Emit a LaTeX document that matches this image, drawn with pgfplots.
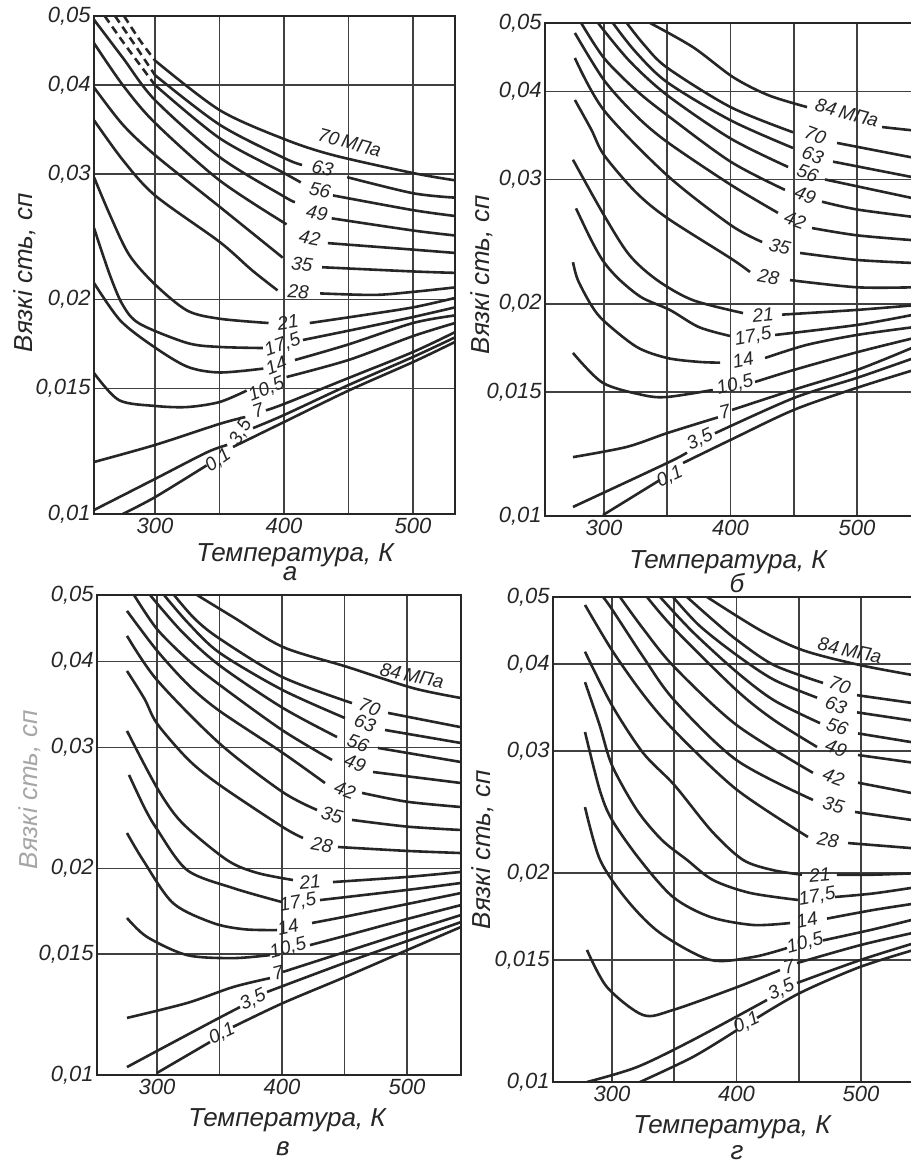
\documentclass[border=0pt]{standalone}
\usepackage{pgfplots}
\pgfplotsset{compat=1.18}
\usepackage{fontspec}
\setmainfont{Liberation Sans}
\pgfplotsset{
  vpanel/.style={
    scale only axis, anchor=south west,
    ymin=0.01, ymax=0.05,
    ytick={0.01,0.015,0.02,0.03,0.04,0.05},
    yticklabels={{0,01},{0,015},{0,02},{0,03},{0,04},{0,05}},
    xtick={300,350,400,450,500},
    xticklabels={300,{},400,{},500},
    grid=major,
    major grid style={line width=0.8pt, draw=black!75},
    axis line style={line width=1.1pt, draw=black!85},
    tick style={draw=none},
    yminorticks=false, xminorticks=false,
    ticklabel style={font=\fontsize{11}{13}\selectfont\itshape, text=black!85},
    yticklabel style={inner sep=1.5pt},
    xticklabel style={inner sep=2pt},
  },
  cv/.style={line width=1.3pt, draw=black!85, smooth},
  dsh/.style={dash pattern=on 4pt off 2.5pt},
}
\tikzset{
  lab/.style={font=\fontsize{9.5}{11}\selectfont\itshape, text=black!85, inner sep=0pt},
  axl/.style={font=\fontsize{13}{15}\selectfont\itshape, text=black!85, inner sep=0pt},
}
\begin{document}
\begin{tikzpicture}
\useasboundingbox (0pt,0pt) rectangle (455pt,582.5pt);
% ---------------- panel a ----------------
\begin{semilogyaxis}[vpanel, at={(47pt,325.5pt)}, width=180.5pt, height=249pt, xmin=252.7, xmax=532.6]
\addplot[cv,dsh] coordinates {(276,0.0500) (288,0.0463) (300,0.0433)};
\addplot[cv] coordinates {(300,0.0433) (350,0.0369) (400,0.0336) (438,0.0319) (500,0.0301) (532.6,0.0294)};
\addplot[cv,dsh] coordinates {(269,0.0500) (284.5,0.0455) (300,0.0413)};
\addplot[cv] coordinates {(300,0.0413) (350,0.0352) (400,0.0316) (414,0.0309)};
\addplot[cv] coordinates {(449,0.0297) (500,0.0282) (532.6,0.0278)};
\addplot[cv,dsh] coordinates {(261,0.0500) (277,0.0455) (300,0.0400)};
\addplot[cv] coordinates {(300,0.0400) (350,0.0337) (400,0.0301) (413,0.0292)};
\addplot[cv] coordinates {(438,0.0280) (500,0.0267) (532.6,0.0262)};
\addplot[cv] coordinates {(252.7,0.0494) (275,0.0437) (300,0.0381) (350,0.0317) (400,0.0279) (408.5,0.0274)};
\addplot[cv] coordinates {(437,0.0260) (500,0.0250) (532.6,0.0246)};
\addplot[cv] coordinates {(252.7,0.0458) (275,0.0400) (300,0.0354) (350,0.0294) (402,0.0255)};
\addplot[cv] coordinates {(434,0.0240) (500,0.0235) (532.6,0.02325)};
\addplot[cv] coordinates {(252.7,0.0397) (275,0.0352) (300,0.0319) (350,0.0270) (399,0.0229)};
\addplot[cv] coordinates {(429.5,0.0222) (500,0.0219) (532.6,0.0218)};
\addplot[cv] coordinates {(252.7,0.0357) (275,0.0314) (300,0.0280) (350,0.0241) (375,0.0220) (395,0.0206)};
\addplot[cv] coordinates {(428,0.0204) (470,0.0203) (500,0.0205) (532.6,0.0208)};
\addplot[cv] coordinates {(252.7,0.0297) (265,0.0263) (280,0.0231) (300,0.0210) (325,0.0193) (350,0.0188) (388,0.01854)};
\addplot[cv] coordinates {(420,0.01854) (460,0.0190) (500,0.0195) (532.6,0.0201)};
\addplot[cv] coordinates {(252.7,0.0252) (265,0.02165) (275,0.01965) (288,0.0185) (325,0.01738) (350,0.01716) (383.7,0.0171)};
\addplot[cv] coordinates {(414.7,0.01755) (460,0.01824) (500,0.0189) (532.6,0.0195)};
\addplot[cv] coordinates {(252.7,0.0211) (273,0.0187) (298.5,0.0172) (325,0.0161) (350,0.0158) (384,0.0160)};
\addplot[cv] coordinates {(408.5,0.01645) (450,0.0173) (500,0.01854) (532.6,0.0190)};
\addplot[cv] coordinates {(252.7,0.01577) (272,0.01445) (300,0.01418) (325,0.01413) (350,0.01436) (371,0.0149)};
\addplot[cv] coordinates {(402,0.01557) (450,0.01645) (500,0.01777) (532.6,0.01854)};
\addplot[cv] coordinates {(252.7,0.01183) (300,0.0125) (350,0.01338) (370,0.01368)};
\addplot[cv] coordinates {(386,0.01398) (400,0.01427) (450,0.01552) (500,0.01688) (532.6,0.0180)};
\addplot[cv] coordinates {(252.7,0.01013) (300,0.0112) (340,0.0122) (356,0.0125)};
\addplot[cv] coordinates {(376,0.0132) (400,0.01377) (450,0.01517) (500,0.01661) (532.6,0.0177)};
\addplot[cv] coordinates {(275,0.0100) (300,0.01056) (340,0.0117)};
\addplot[cv] coordinates {(360.5,0.01242) (400,0.01346) (450,0.0149) (500,0.01634) (532.6,0.01744)};
\node[lab,rotate=-15] at (axis cs:451,0.0332) {70\,МПа};
\node[lab,rotate=-12] at (axis cs:430,0.0306) {63};
\node[lab,rotate=-12] at (axis cs:428,0.0285) {56};
\node[lab,rotate=-10] at (axis cs:425.6,0.02645) {49};
\node[lab,rotate=-10] at (axis cs:420,0.0244) {42};
\node[lab,rotate=-8] at (axis cs:414,0.0224) {35};
\node[lab,rotate=-3] at (axis cs:411,0.0205) {28};
\node[lab,rotate=8] at (axis cs:403,0.0186) {21};
\node[lab,rotate=20] at (axis cs:399,0.01727) {17,5};
\node[lab,rotate=22] at (axis cs:394,0.01615) {14};
\node[lab,rotate=22] at (axis cs:386.5,0.01495) {10,5};
\node[lab,rotate=20] at (axis cs:380,0.01395) {7};
\node[lab,rotate=60] at (axis cs:366.5,0.01303) {3,5};
\node[lab,rotate=35] at (axis cs:349,0.0119) {0,1};
\end{semilogyaxis}
% ---------------- panel b ----------------
\begin{semilogyaxis}[vpanel, at={(272.5pt,324.5pt)}, width=184.5pt, height=246.5pt, xmin=253.4, xmax=545]
\addplot[cv] coordinates {(336.4,0.0500) (370.4,0.0462) (402,0.0419) (430,0.0395) (460.5,0.0380)};
\addplot[cv] coordinates {(519.8,0.0356) (545,0.0352)};
\addplot[cv] coordinates {(318,0.0500) (332,0.0465) (350,0.0432) (400,0.0380) (449.4,0.0350)};
\addplot[cv] coordinates {(484.2,0.0338) (545,0.0322)};
\addplot[cv] coordinates {(307,0.0500) (325,0.0455) (350,0.0412) (400,0.0364) (449.4,0.03325)};
\addplot[cv] coordinates {(481,0.0318) (545,0.0302)};
\addplot[cv] coordinates {(295.3,0.0500) (320,0.0442) (350,0.0395) (400,0.0343) (445.5,0.03125)};
\addplot[cv] coordinates {(474.7,0.0300) (545,0.0282)};
\addplot[cv] coordinates {(282,0.0500) (300,0.0446) (325,0.0402) (350,0.0370) (400,0.0318) (443,0.0290)};
\addplot[cv] coordinates {(472.3,0.0279) (500,0.0272) (545,0.02654)};
\addplot[cv] coordinates {(277,0.0484) (300,0.0415) (325,0.0370) (350,0.0339) (400,0.0295) (437.5,0.0269)};
\addplot[cv] coordinates {(464.4,0.0256) (500,0.0250) (545,0.0246)};
\addplot[cv] coordinates {(277,0.0446) (300,0.0376) (350,0.0304) (400,0.02586) (425,0.02446)};
\addplot[cv] coordinates {(455,0.0236) (500,0.02307) (545,0.02284)};
\addplot[cv] coordinates {(277,0.0389) (290,0.0353) (300,0.0325) (325,0.0288) (350,0.02645) (400,0.0232) (415.4,0.02218)};
\addplot[cv] coordinates {(447,0.0216) (500,0.0211) (545,0.0211)};
\addplot[cv] coordinates {(275.5,0.0320) (300,0.0267) (320,0.02345) (342,0.0216) (370,0.02024) (409.9,0.0194)};
\addplot[cv] coordinates {(440.7,0.0193) (500,0.0196) (545,0.0199)};
\addplot[cv] coordinates {(277.9,0.0273) (290,0.0246) (300,0.0229) (312.6,0.0216) (330,0.0204) (352,0.0196) (375,0.01853) (399.6,0.0180)};
\addplot[cv] coordinates {(435.2,0.01806) (500,0.01866) (545,0.0193)};
\addplot[cv] coordinates {(275.5,0.0229) (279.4,0.0216) (290,0.0199) (300,0.0189) (326,0.01736) (350,0.01675) (375,0.01654) (391.7,0.0165)};
\addplot[cv] coordinates {(427.3,0.01675) (460,0.01748) (500,0.01806) (545,0.01853)};
\addplot[cv] coordinates {(275.5,0.01703) (299,0.01545) (331,0.01484) (350,0.01475) (386,0.01509)};
\addplot[cv] coordinates {(419.4,0.01549) (450,0.01611) (500,0.01707) (545,0.01788)};
\addplot[cv] coordinates {(275.5,0.01212) (318,0.01253) (350,0.01311) (390,0.0138)};
\addplot[cv] coordinates {(401.2,0.01414) (449.4,0.01509) (500,0.01611) (545,0.01736)};
\addplot[cv] coordinates {(275.5,0.0103) (350,0.01189) (365.6,0.0123)};
\addplot[cv] coordinates {(387.7,0.0131) (450,0.0147) (500,0.0157) (545,0.01675)};
\addplot[cv] coordinates {(299.2,0.01003) (344.3,0.01125)};
\addplot[cv] coordinates {(362.5,0.01189) (400,0.01282) (450,0.01414) (500,0.0152) (545,0.01611)};
\node[lab,rotate=-15] at (axis cs:492,0.0373) {84\,МПа};
\node[lab,rotate=-20] at (axis cs:467,0.0347) {70};
\node[lab,rotate=-20] at (axis cs:465,0.0325) {63};
\node[lab,rotate=-20] at (axis cs:461,0.0306) {56};
\node[lab,rotate=-20] at (axis cs:459,0.0285) {49};
\node[lab,rotate=-20] at (axis cs:451,0.0263) {42};
\node[lab,rotate=-15] at (axis cs:439,0.0241) {35};
\node[lab,rotate=-10] at (axis cs:430,0.0218) {28};
\node[lab,rotate=5] at (axis cs:425.7,0.0193) {21};
\node[lab,rotate=10] at (axis cs:417.8,0.01794) {17,5};
\node[lab,rotate=12] at (axis cs:409.9,0.01664) {14};
\node[lab,rotate=15] at (axis cs:403.6,0.01534) {10,5};
\node[lab,rotate=15] at (axis cs:395.5,0.01404) {7};
\node[lab,rotate=25] at (axis cs:375.9,0.01282) {3,5};
\node[lab,rotate=25] at (axis cs:352,0.01136) {0,1};
\end{semilogyaxis}
% ---------------- panel v ----------------
\begin{semilogyaxis}[vpanel, at={(48.5pt,45pt)}, width=182pt, height=240pt, xmin=252, xmax=543.2]
\addplot[cv] coordinates {(332,0.0500) (360.8,0.04645) (400.8,0.0420) (452,0.0393) (504.8,0.0366) (543.2,0.0354)};
\addplot[cv] coordinates {(313.6,0.0500) (330,0.0462) (350,0.0432) (400,0.0380) (456,0.0348)};
\addplot[cv] coordinates {(484.8,0.03367) (543.2,0.0321)};
\addplot[cv] coordinates {(305.6,0.0500) (325,0.0455) (350,0.0412) (400,0.0364) (450.4,0.0331)};
\addplot[cv] coordinates {(482.4,0.0318) (543.2,0.03044)};
\addplot[cv] coordinates {(294.4,0.0500) (320,0.0442) (350,0.0395) (400,0.0343) (444,0.03106)};
\addplot[cv] coordinates {(476.8,0.02994) (543.2,0.02856)};
\addplot[cv] coordinates {(281.6,0.0500) (300,0.0446) (325,0.0402) (350,0.0370) (400,0.0318) (440,0.02876)};
\addplot[cv] coordinates {(472.8,0.02762) (543.2,0.02662)};
\addplot[cv] coordinates {(276,0.0474) (300,0.0415) (325,0.0370) (350,0.0339) (400,0.0295) (434.4,0.02662)};
\addplot[cv] coordinates {(464,0.02575) (500,0.0250) (543.2,0.02456)};
\addplot[cv] coordinates {(276,0.0436) (300,0.0376) (350,0.0304) (400,0.02586) (428,0.02432)};
\addplot[cv] coordinates {(456,0.02352) (500,0.0230) (543.2,0.02274)};
\addplot[cv] coordinates {(276,0.03876) (290,0.0353) (300,0.0325) (325,0.0288) (350,0.02645) (400,0.0230) (416.8,0.02214)};
\addplot[cv] coordinates {(444.8,0.02148) (500,0.0212) (543.2,0.02105)};
\addplot[cv] coordinates {(276,0.0317) (300,0.0262) (320,0.0233) (356,0.02056) (380,0.0197) (408.8,0.01923)};
\addplot[cv] coordinates {(440.8,0.0191) (500,0.01943) (543.2,0.01976)};
\addplot[cv] coordinates {(277.6,0.02735) (290,0.0245) (300,0.0228) (324,0.01989) (360.8,0.01872) (400,0.01786)};
\addplot[cv] coordinates {(430.4,0.01798) (500,0.0186) (543.2,0.01904)};
\addplot[cv] coordinates {(276,0.02251) (288.8,0.02056) (312.8,0.0178) (344.8,0.01665) (370,0.0163) (396,0.01626)};
\addplot[cv] coordinates {(424,0.01665) (450,0.0170) (500,0.01774) (543.2,0.01841)};
\addplot[cv] coordinates {(276,0.01693) (292,0.01589) (324,0.01495) (360.8,0.0148) (390.4,0.01495)};
\addplot[cv] coordinates {(422.4,0.01546) (450,0.01594) (500,0.01687) (543.2,0.01768)};
\addplot[cv] coordinates {(276,0.01211) (324,0.01273) (360.8,0.01343) (390.4,0.01384)};
\addplot[cv] coordinates {(400.8,0.01413) (450,0.0151) (500,0.01615) (543.2,0.0171)};
\addplot[cv] coordinates {(276,0.01027) (300,0.01084) (344.8,0.01198) (366.4,0.01256)};
\addplot[cv] coordinates {(388,0.01321) (450,0.01456) (500,0.01567) (543.2,0.0167)};
\addplot[cv] coordinates {(300,0.01007) (342.4,0.01117)};
\addplot[cv] coordinates {(360.8,0.01175) (400.8,0.01273) (450.4,0.01389) (500,0.0152) (543.2,0.01643)};
\node[lab,rotate=-12] at (axis cs:504,0.0382) {84\,МПа};
\node[lab,rotate=-20] at (axis cs:470,0.03435) {70};
\node[lab,rotate=-20] at (axis cs:466.4,0.03256) {63};
\node[lab,rotate=-20] at (axis cs:460.8,0.03044) {56};
\node[lab,rotate=-20] at (axis cs:458.4,0.02847) {49};
\node[lab,rotate=-20] at (axis cs:450.4,0.0260) {42};
\node[lab,rotate=-15] at (axis cs:440,0.02391) {35};
\node[lab,rotate=-10] at (axis cs:432,0.02163) {28};
\node[lab,rotate=5] at (axis cs:422.4,0.0191) {21};
\node[lab,rotate=10] at (axis cs:412.8,0.0178) {17,5};
\node[lab,rotate=12] at (axis cs:404.8,0.01643) {14};
\node[lab,rotate=15] at (axis cs:404.8,0.0153) {10,5};
\node[lab,rotate=15] at (axis cs:396.8,0.01408) {7};
\node[lab,rotate=25] at (axis cs:376.8,0.01286) {3,5};
\node[lab,rotate=25] at (axis cs:352,0.01148) {0,1};
\end{semilogyaxis}
% ---------------- panel g ----------------
\begin{semilogyaxis}[vpanel, at={(276.5pt,41.5pt)}, width=182pt, height=242.5pt, xmin=252.6, xmax=545]
\addplot[cv] coordinates {(376.3,0.0500) (418.9,0.0448) (453.4,0.0419) (499.2,0.0399) (545,0.0385)};
\addplot[cv] coordinates {(360.2,0.0500) (380,0.0465) (400,0.0434) (430,0.0399) (469.5,0.0376)};
\addplot[cv] coordinates {(496.8,0.0361) (545,0.0351)};
\addplot[cv] coordinates {(349,0.0500) (370,0.0455) (400,0.04125) (430,0.0380) (464.7,0.0358)};
\addplot[cv] coordinates {(496.8,0.0341) (545,0.0331)};
\addplot[cv] coordinates {(338.6,0.0500) (365,0.0445) (400,0.0390) (430,0.0355) (467.1,0.0329)};
\addplot[cv] coordinates {(497.6,0.0318) (545,0.0308)};
\addplot[cv] coordinates {(328.1,0.0500) (350,0.0450) (400,0.0367) (430,0.03325) (464.7,0.0304)};
\addplot[cv] coordinates {(497.6,0.0296) (545,0.0288)};
\addplot[cv] coordinates {(306.4,0.0500) (325,0.0450) (350,0.03965) (400,0.0327) (461.4,0.0279)};
\addplot[cv] coordinates {(497.6,0.0270) (545,0.0260)};
\addplot[cv] coordinates {(292.8,0.0500) (300,0.0480) (325,0.0410) (350,0.0355) (400,0.0291) (461.4,0.0255)};
\addplot[cv] coordinates {(495.2,0.0245) (545,0.0238)};
\addplot[cv] coordinates {(278.3,0.0487) (300,0.0419) (325,0.0362) (350,0.0321) (400,0.0264) (457.4,0.02255)};
\addplot[cv] coordinates {(489.6,0.0221) (545,0.0217)};
\addplot[cv] coordinates {(278.3,0.0417) (300,0.0349) (325,0.0298) (350,0.0268) (380,0.0230) (405.2,0.0209) (429.3,0.0202) (452.6,0.0199)};
\addplot[cv] coordinates {(480.7,0.0199) (510,0.0199) (545,0.0200)};
\addplot[cv] coordinates {(278.3,0.0377) (290,0.0327) (300,0.0286) (320,0.02466) (340,0.02233) (360.2,0.0209) (381.1,0.01955) (410.8,0.01873) (449.4,0.0183)};
\addplot[cv] coordinates {(479.1,0.01848) (510,0.0187) (545,0.0191)};
\addplot[cv] coordinates {(278.3,0.03195) (290,0.0264) (300,0.02386) (322.5,0.0209) (349,0.01848) (378.7,0.0173) (413.3,0.01684) (443,0.01695)};
\addplot[cv] coordinates {(472.7,0.0172) (510,0.0177) (545,0.0181)};
\addplot[cv] coordinates {(278.3,0.0249) (290.4,0.0209) (312,0.0183) (338.6,0.0164) (378.7,0.0150) (413.3,0.01514) (440.6,0.0156)};
\addplot[cv] coordinates {(469.5,0.0160) (510,0.0166) (545,0.0172)};
\addplot[cv] coordinates {(279.9,0.0155) (296,0.0137) (324.9,0.01249) (349,0.0127) (400.4,0.0137) (434.9,0.0145)};
\addplot[cv] coordinates {(448.6,0.01484) (500,0.01576) (545,0.01645)};
\addplot[cv] coordinates {(279.9,0.0100) (320.1,0.01051) (365.1,0.0115) (424.5,0.01313)};
\addplot[cv] coordinates {(448.6,0.01389) (500,0.0150) (545,0.0159)};
\addplot[cv] coordinates {(322.5,0.0100) (365.1,0.01087) (400.4,0.01188)};
\addplot[cv] coordinates {(416.5,0.01237) (451,0.01344) (499.2,0.01465) (545,0.01555)};
\node[lab,rotate=-12] at (axis cs:491,0.0419) {84\,МПа};
\node[lab,rotate=-20] at (axis cs:483,0.0373) {70};
\node[lab,rotate=-20] at (axis cs:480,0.0349) {63};
\node[lab,rotate=-20] at (axis cs:481,0.0325) {56};
\node[lab,rotate=-20] at (axis cs:480,0.0303) {49};
\node[lab,rotate=-20] at (axis cs:478,0.0275) {42};
\node[lab,rotate=-15] at (axis cs:478,0.0251) {35};
\node[lab,rotate=-10] at (axis cs:473.5,0.02233) {28};
\node[lab,rotate=5] at (axis cs:467,0.0199) {21};
\node[lab,rotate=10] at (axis cs:464.7,0.01848) {17,5};
\node[lab,rotate=12] at (axis cs:456.6,0.0171) {14};
\node[lab,rotate=15] at (axis cs:455,0.01586) {10,5};
\node[lab,rotate=15] at (axis cs:442,0.01465) {7};
\node[lab,rotate=25] at (axis cs:436,0.01357) {3,5};
\node[lab,rotate=25] at (axis cs:408,0.01216) {0,1};
\end{semilogyaxis}
% ---------------- outer labels ----------------
\node[axl] at (147.5pt,305pt) {Температура, К};
\node[axl] at (145pt,295.5pt) {а};
\node[axl,rotate=90] at (12.5pt,446pt) {Вязкі сть, сп};
\node[axl] at (364pt,301.5pt) {Температура, К};
\node[axl] at (368.5pt,291pt) {б};
\node[axl,rotate=90] at (241pt,445pt) {Вязкі сть, сп};
\node[axl] at (143.5pt,22.5pt) {Температура, К};
\node[axl] at (141.5pt,8pt) {в};
\node[axl,rotate=90,text=black!35] at (15pt,187.5pt) {Вязкі сть, сп};
\node[axl] at (366pt,19pt) {Температура, К};
\node[axl] at (368.5pt,6pt) {г};
\node[axl,rotate=90] at (241.5pt,157.5pt) {Вязкі сть, сп};
\end{tikzpicture}
\end{document}
